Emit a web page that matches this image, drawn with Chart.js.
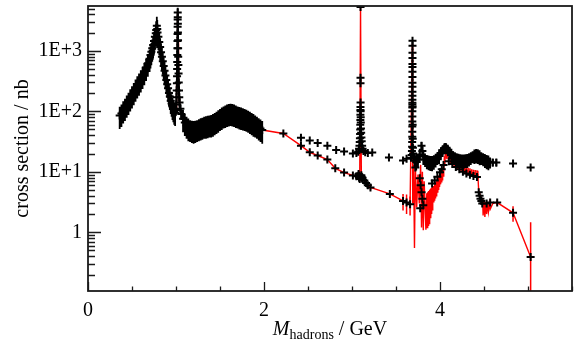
<!DOCTYPE html>
<html>
<head>
<meta charset="utf-8">
<script src="https://cdn.jsdelivr.net/npm/chart.js@4.4.1/dist/chart.umd.min.js"></script>
<style>
  html, body { margin: 0; padding: 0; background: #fff; }
</style>
</head>
<body>
<canvas id="xsecChart" width="579" height="349"></canvas>
<script>
// Low-mass band (rho/omega, phi, continuum up to 2 GeV): black crosses with error bars
const lowMass = [0.36,0.38,0.40,0.42,0.44,0.46,0.48,0.50,0.52,0.54,0.56,0.58,0.60,0.62,0.64,0.66,0.68,0.70,
  0.71,0.72,0.73,0.74,0.75,0.76,0.77,0.775,0.782,0.787,0.79,
  0.80,0.81,0.82,0.83,0.84,0.85,0.86,0.87,0.88,0.89,0.90,0.91,0.92,0.93,0.94,0.95,0.96,0.97,0.98,0.99,
  1.00,1.003,1.006,1.008,1.010,1.012,1.013,1.014,1.015,1.016,1.017,1.018,1.0185,1.019,1.0195,
  1.020,1.021,1.022,1.023,1.024,1.025,1.027,1.029,1.031,1.034,1.037,1.04,1.05,1.06,
  1.08,1.10,1.12,1.14,1.16,1.18,1.20,1.22,1.24,1.26,1.28,1.30,1.32,1.34,1.36,1.38,1.40,1.42,1.44,1.46,
  1.48,1.50,1.52,1.54,1.56,1.58,1.60,1.62,1.64,1.66,1.68,1.70,1.72,1.74,1.76,1.78,1.80,1.82,1.84,1.86,
  1.88,1.90,1.92,1.94,1.96,1.98];
const lowSigma = [85,92,105,115,130,145,165,185,210,240,270,300,340,390,450,530,620,740,
  850,960,1100,1250,1450,1700,1950,2200,2600,2300,2000,
  1700,1400,1150,950,800,670,560,470,390,330,280,240,200,175,150,135,120,110,100,95,
  105,130,170,220,290,380,500,650,850,1100,1450,1900,2500,3300,4300,
  3600,2800,2000,1500,1100,800,580,420,300,220,170,140,110,90,
  75,65,58,54,51,50,49,50,51,53,55,56,58,59,60,61,62,64,67,70,
  74,78,82,86,89,92,94,95,94,92,89,86,84,82,80,78,76,73,70,67,
  64,61,58,55,52,49];
const lowErr = [34,37,42,46,52,58,66,74,84,96,108,120,136,156,180,212,248,296,
  340,384,440,500,580,680,780,880,1040,920,800,
  680,560,460,380,320,268,224,188,156,132,112,96,80,70,60,54,48,44,40,38,
  21,26,34,44,58,76,100,130,170,220,290,380,500,660,860,
  720,560,400,300,220,160,116,84,60,44,34,28,22,18,
  30,26,23,22,20,20,20,20,20,21,22,22,23,24,24,24,25,26,27,28,
  30,31,33,34,36,37,38,38,38,37,36,34,34,33,32,31,30,29,28,27,
  26,24,23,22,21,20];

// Lower branch above 2 GeV: crosses on the red line, red error bars
const highMass = [2.22,2.42,2.52,2.61,2.72,2.81,2.91,3.01,3.05,3.07,3.08,3.088,3.106,3.12,3.14,
  3.16,3.18,3.21,3.43,3.58,3.62,3.66,4.65,4.83,5.03];
const highSigma = [43,27,21,18.6,15.9,11.4,9.7,8.7,8.4,8.6,8.0,7.6,8.8,8.0,7.2,
  6.5,6.0,5.5,4.3,3.3,3.1,2.9,3.1,2.1,0.39];
const highErr = [3,2,1.5,1.2,1.2,0.8,0.7,0.6,0.6,0.6,0.6,0.6,0.7,0.6,0.6,
  0.5,0.5,0.5,0.4,1.0,1.1,1.0,0.3,0.6,1.07];

// Red line only: narrow resonances and the scattered charm region
const spikeMass = [3.097,3.6855,3.690,3.700,3.710,3.720,3.735,3.750,3.765,3.780,3.790,3.800,3.810,3.820,3.840,
  3.850,3.855,3.860,3.865,3.870,3.875,3.880,3.885,3.890,3.895,3.900,3.905,3.910,3.915,3.920,
  3.925,3.930,3.935,3.940,3.945,3.950,3.955,3.960,3.965,3.970,3.975,3.980,3.985,3.990,3.995,
  4.000,4.005,4.010,4.015,4.020,4.025,4.030,4.035,4.040,4.045,4.050,4.055,4.060,
  4.440,4.460,4.480,4.485,4.490,4.500,4.510,4.520,4.530,4.540,4.550,4.560,4.570,4.600];
const spikeSigma = [5300,1300,3.0,13,0.55,12,2.6,9,3.0,13,1.2,10,1.08,7,1.1,
  4.4,1.2,4.6,1.3,4.8,1.4,5.0,1.5,5.2,1.7,5.4,2.0,5.6,2.3,5.8,
  3.2,5.8,3.4,6.2,3.7,6.7,4.0,7.1,4.3,7.5,4.5,8.0,5.0,8.8,5.6,
  9.6,6.2,10.4,6.8,11.0,7.4,11.8,8.5,14,10.5,18,13,20,
  4.8,4.0,3.5,3.4,1.9,3.2,1.8,3.1,2.0,3.0,2.2,3.0,2.4,3.0];

// Red band 4.07-4.43 GeV with red error bars
const redBandMass = [4.070,4.080,4.100,4.120,4.140,4.160,4.180,4.200,4.220,4.240,
  4.260,4.280,4.300,4.320,4.340,4.360,4.380,4.400,4.420,4.430];
const redBandSigma = [19.5,19,17.5,16.5,15.5,14.5,13.8,13.0,12.4,11.8,
  11.3,10.9,10.5,10.2,9.9,9.6,9.4,9.3,9.2,9.0];
const redBandErr = [2.9,2.9,2.6,2.5,2.3,2.2,2.1,2.0,1.9,1.8,
  1.7,1.6,1.6,1.5,1.5,1.4,1.4,1.4,1.4,1.4];

// Upper crosses above 2 GeV, J/psi and psi(2S) columns (markers only)
const upperMass = [2.42,2.52,2.61,2.72,2.82,2.91,3.01,3.05,3.07,3.080,3.085,3.088,3.090,3.092,3.093,
  3.094,3.095,3.0955,3.096,3.0963,3.0966,3.0968,3.097,3.0975,3.098,3.099,3.100,3.102,3.104,3.107,
  3.110,3.115,3.120,3.130,3.150,3.180,3.230,3.42,3.58,3.62,
  3.670,3.678,3.681,3.683,3.684,3.685,3.6852,3.6854,3.6856,3.6858,3.686,3.6861,3.6862,3.6863,3.6864,
  3.6865,3.6866,3.6867,3.6868,3.6869,3.687,3.6871,3.6872,3.6873,3.6874,3.6875,3.6876,
  3.688,3.689,3.690,3.692,3.695,3.700,4.83,5.03];
const upperSigma = [36.6,32.8,30,27,23,21.6,20,20.5,21.5,24,27,31,36,42,50,
  60,72,88,105,118,290,360,5300,140,100,80,65,52,44,37,
  32,27,24,22,21,20.5,20.8,17.2,15.4,16.5,
  17,19,22,26,31,38,46,56,68,82,100,115,129,138,155,
  180,210,255,295,370,450,540,605,760,930,1210,1460,
  120,60,35,25,20,17,13.7,11.8];

// Upper band 3.7-4.65 GeV with error bars
const upperBandMass = [3.71,3.73,3.75,3.77,3.79,3.80,3.81,3.83,3.85,3.87,3.89,3.91,3.93,3.95,3.97,3.99,
  4.01,4.03,4.05,4.06,4.07,4.09,4.11,4.13,4.15,4.17,4.19,4.21,4.23,4.25,4.27,4.29,
  4.31,4.33,4.35,4.37,4.39,4.41,4.43,4.45,4.47,4.49,4.51,4.53,4.55,4.57,4.60,4.64];
const upperBandSigma = [15.5,14.5,16,19,27,22,18,16,15,14.6,14.3,14.2,14.8,15.8,17,18.5,
  20.5,22.5,24.5,25,24.5,23,21,19,17.8,17,16.3,15.8,15.5,15.3,15.3,15.4,
  15.6,16.2,17,17.8,18.4,18.7,18.5,17.8,17,16.3,15.6,15,14.6,14.3,14.2,14.2];
const upperBandErr = [4,4,4,5,4,5,5,4,4,4,4,4,4,4,4,5,
  5,5,5,5,5,5,5,5,4,4,4,4,4,4,4,4,
  4,4,4,4,5,5,5,5,4,4,4,4,4,3,2,2];

// Loose crosses in the charm region (markers only)
const extraMass = [3.72,3.77,3.775,3.78,3.79,3.80,3.81,3.91,3.94,3.97,4.00,4.02,4.04,4.10,4.14,
  4.18,4.22,4.26,4.30,4.34,4.38,4.42,4.44,4.45,4.46,4.47,4.48,4.53,4.57,3.075,3.082,3.11,3.115];
const extraSigma = [11.8,7.8,2.5,6.0,4.6,3.6,2.8,6.4,7.2,8.3,9.8,11,13,15,13.5,
  12,11,10,9.4,8.9,8.5,8.2,4.6,4.0,3.6,3.3,3.0,3.0,3.1,9.2,8.6,8.3,7.7];

// Axes
const xTickValues = [0, 2, 4];
const xMinorStep = 0.5;
const yTickValues = [1, 10, 100, 1000];
const yTickLabels = ["1", "1E+1", "1E+2", "1E+3"];
const X_MAX = 5.5;
const Y_MIN = 0.107;
const Y_MAX = 5500;

const SERIF = "'Liberation Serif', 'Times New Roman', serif";

const pts = (xs, ys, es) => xs.map((x, i) => ({ x, y: ys[i], e: es ? es[i] : 0 }));

const redPoints = [
  ...pts(lowMass, lowSigma),
  ...pts(highMass, highSigma, highErr),
  ...pts(spikeMass, spikeSigma),
  ...pts(redBandMass, redBandSigma, redBandErr)
].sort((a, b) => a.x - b.x);

const blackPoints = [
  ...pts(lowMass, lowSigma, lowErr),
  ...pts(highMass, highSigma),
  ...pts(upperMass, upperSigma),
  ...pts(upperBandMass, upperBandSigma, upperBandErr),
  ...pts(extraMass, extraSigma)
];

// vertical error bars, drawn together with their dataset
const errorBars = {
  id: "errorBars",
  afterDatasetDraw(chart, args) {
    const ds = chart.data.datasets[args.index];
    if (!ds.errColor) return;
    const { ctx, chartArea: a, scales: { x, y } } = chart;
    ctx.save();
    ctx.beginPath();
    ctx.rect(a.left, a.top, a.width, a.height);
    ctx.clip();
    ctx.strokeStyle = ds.errColor;
    ctx.lineWidth = ds.errWidth;
    ctx.beginPath();
    ds.data.forEach(p => {
      if (!p.e) return;
      const px = x.getPixelForValue(p.x);
      const lo = p.y - p.e > 0 ? y.getPixelForValue(p.y - p.e) : a.bottom;
      ctx.moveTo(px, lo);
      ctx.lineTo(px, y.getPixelForValue(p.y + p.e));
    });
    ctx.stroke();
    ctx.restore();
  }
};

// box, inward ticks and axis titles
const frame = {
  id: "frame",
  afterDraw(chart) {
    const { ctx, chartArea: a, scales: { x, y } } = chart;
    ctx.save();
    ctx.strokeStyle = "#1a1a1a";
    ctx.lineWidth = 1.3;
    ctx.beginPath();
    for (let v = 0; v <= X_MAX + 1e-9; v += xMinorStep) {
      const px = Math.round(x.getPixelForValue(v)) + 0.5;
      const len = xTickValues.includes(v) ? 9 : 4.5;
      ctx.moveTo(px, a.bottom);
      ctx.lineTo(px, a.bottom - len);
    }
    for (let d = -1; d <= 3; d++) {
      for (let m = 1; m <= 9; m++) {
        const v = m * Math.pow(10, d);
        if (v < Y_MIN || v > Y_MAX) continue;
        const py = Math.round(y.getPixelForValue(v)) + 0.5;
        ctx.moveTo(a.left, py);
        ctx.lineTo(a.left + (m === 1 ? 13 : 7), py);
      }
    }
    ctx.stroke();
    ctx.lineWidth = 1.8;
    ctx.strokeRect(a.left, a.top, a.width, a.height);

    ctx.fillStyle = "#000";
    // x title: M_hadrons / GeV
    const parts = [
      { font: "italic 20px " + SERIF, text: "M", dy: 0 },
      { font: "14px " + SERIF, text: "hadrons", dy: 4 },
      { font: "20px " + SERIF, text: " / GeV", dy: 0 }
    ];
    let total = 0;
    parts.forEach(p => { ctx.font = p.font; p.w = ctx.measureText(p.text).width; total += p.w; });
    let cx = (a.left + a.right) / 2 - total / 2;
    ctx.textBaseline = "alphabetic";
    ctx.textAlign = "left";
    parts.forEach(p => { ctx.font = p.font; ctx.fillText(p.text, cx, 335 + p.dy); cx += p.w; });

    // y title
    ctx.translate(23, (a.top + a.bottom) / 2);
    ctx.rotate(-Math.PI / 2);
    ctx.font = "20px " + SERIF;
    ctx.textAlign = "center";
    ctx.textBaseline = "middle";
    ctx.fillText("cross section / nb", 0, 0);
    ctx.restore();
  }
};

new Chart(document.getElementById("xsecChart"), {
  type: "scatter",
  data: {
    datasets: [
      {
        label: "data",
        data: blackPoints,
        showLine: false,
        pointStyle: "cross",
        pointRadius: 4,
        borderColor: "#000",
        backgroundColor: "#000",
        borderWidth: 2,
        errColor: "#000",
        errWidth: 1.8,
        order: 0
      },
      {
        label: "combined",
        data: redPoints,
        showLine: true,
        pointRadius: 0,
        borderColor: "#ff0000",
        borderWidth: 1.4,
        tension: 0,
        errColor: "#ff0000",
        errWidth: 1.5,
        order: 1
      }
    ]
  },
  options: {
    responsive: false,
    animation: false,
    devicePixelRatio: 1,
    layout: { padding: { top: 5, right: 7, left: 0, bottom: 0 } },
    plugins: { legend: { display: false }, tooltip: { enabled: false } },
    scales: {
      x: {
        type: "linear",
        min: 0,
        max: X_MAX,
        grid: { display: false, drawTicks: false },
        border: { display: false },
        afterBuildTicks: s => { s.ticks = xTickValues.map(v => ({ value: v })); },
        afterFit: s => { s.height = 58; s.paddingLeft = 0; s.paddingRight = 0; },
        ticks: {
          font: { family: SERIF, size: 20 },
          color: "#000",
          padding: 8,
          maxRotation: 0,
          autoSkip: false,
          callback: v => String(v)
        }
      },
      y: {
        type: "logarithmic",
        min: Y_MIN,
        max: Y_MAX,
        grid: { display: false, drawTicks: false },
        border: { display: false },
        afterBuildTicks: s => { s.ticks = yTickValues.map(v => ({ value: v })); },
        afterFit: s => { s.width = 88; s.paddingTop = 0; s.paddingBottom = 0; },
        ticks: {
          font: { family: SERIF, size: 20 },
          color: "#000",
          padding: 6,
          autoSkip: false,
          callback: v => yTickLabels[yTickValues.indexOf(v)]
        }
      }
    }
  },
  plugins: [errorBars, frame]
});
</script>
</body>
</html>
